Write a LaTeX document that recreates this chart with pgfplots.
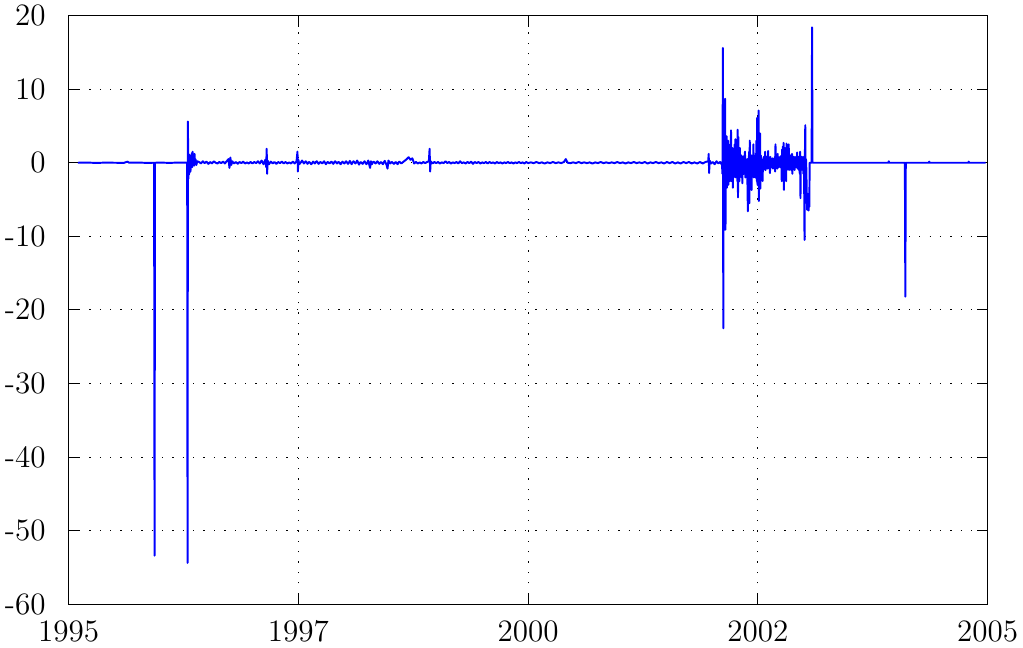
\documentclass[border=0pt]{standalone}
\usepackage{pgfplots}
\pgfplotsset{compat=1.18}
\begin{document}
\begin{tikzpicture}
\begin{axis}[
  width=354.4pt, height=227pt, scale only axis,
  xmin=1995, xmax=2005, ymin=-60, ymax=20,
  xtick={1995,1997.5,2000,2002.5,2005},
  xticklabels={1995,1997,2000,2002,2005},
  ytick={-60,-50,-40,-30,-20,-10,0,10,20},
  yticklabels={-60,-50,-40,-30,-20,-10,0,10,20},
  tick label style={font=\large, inner sep=1.9pt},
  xticklabel style={yshift=-4.3pt},
  yticklabel style={xshift=-6.8pt},
  xmajorgrids, ymajorgrids,
  major grid style={dash pattern=on 0.5pt off 3.5pt, black},
  tick align=inside,
  axis line style={black, line width=0.5pt},
  every tick/.style={black},
]
\addplot[color=blue, line width=0.75pt, line join=round] coordinates {
(1995.10,0)(1995.20,0.03)(1995.30,-0.03)(1995.40,0.02)(1995.50,0)(1995.60,-0.02)(1995.64,0.15)(1995.66,0)(1995.75,0.03)(1995.85,-0.02)(1995.93,0)(1995.935,-53.4)(1995.94,0)(1996.00,0.02)(1996.10,-0.02)(1996.20,0.03)(1996.29,0)(1996.294,-54.4)(1996.298,5.6)(1996.302,-2.2)(1996.306,0.8)(1996.31,-1.6)(1996.314,1.1)(1996.318,-0.9)(1996.322,0.4)(1996.326,-1.2)(1996.33,0.6)(1996.335,-0.4)(1996.34,1.3)(1996.345,-0.6)(1996.35,1.5)(1996.355,-0.3)(1996.36,0.9)(1996.365,-0.4)(1996.37,1.2)(1996.375,-0.2)(1996.38,0.5)(1996.39,-0.3)(1996.40,0.2)
(1996.42,0.1)(1996.44,-0.1)(1996.46,0.2)(1996.48,-0.05)(1996.50,0.15)(1996.52,-0.15)(1996.54,0.1)(1996.56,-0.1)(1996.58,0.2)(1996.60,0)(1996.62,-0.1)(1996.64,0.1)(1996.66,-0.05)(1996.68,0.15)(1996.70,-0.1)(1996.72,0.2)(1996.74,0.5)(1996.75,-0.7)(1996.76,0.7)(1996.77,-0.3)(1996.78,0.2)(1996.80,-0.1)(1996.82,0.1)(1996.84,-0.15)(1996.86,0.1)(1996.88,-0.05)(1996.90,0.15)(1996.92,-0.1)(1996.94,0.05)(1996.96,-0.1)(1996.98,0.1)
(1997.00,-0.1)(1997.02,0.1)(1997.04,-0.05)(1997.06,0.2)(1997.08,-0.1)(1997.10,0.3)(1997.12,-0.2)(1997.14,0.4)(1997.15,-0.6)(1997.155,1.9)(1997.16,-1.5)(1997.165,0.3)(1997.18,-0.2)(1997.20,0.15)(1997.22,-0.1)(1997.24,0.1)(1997.26,-0.15)(1997.28,0.1)(1997.30,-0.05)(1997.32,0.15)(1997.34,-0.1)(1997.36,0.1)(1997.38,-0.1)(1997.40,0.05)(1997.42,-0.1)(1997.44,0.15)(1997.46,-0.1)(1997.48,0.2)(1997.49,1.5)(1997.495,-1.2)(1997.50,0.4)(1997.51,-0.2)(1997.53,0.1)(1997.54,0.3)(1997.56,-0.1)(1997.57,0.05)(1997.58,0.2)(1997.60,-0.15)(1997.61,0.05)(1997.62,0.1)(1997.64,-0.2)(1997.65,-0.05)(1997.66,0.15)(1997.68,-0.1)(1997.69,0.1)(1997.70,0.2)(1997.72,-0.15)(1997.73,0)(1997.74,0.1)(1997.76,-0.1)(1997.77,0.05)(1997.78,0.2)(1997.80,-0.2)(1997.81,0)(1997.82,0.1)(1997.84,-0.1)(1997.85,0.05)(1997.86,0.15)(1997.88,-0.15)(1997.89,0.05)(1997.90,0.2)(1997.92,-0.1)(1997.93,0.05)(1997.94,0.1)(1997.96,-0.2)(1997.97,0)(1997.98,0.15)
(1998.00,-0.1)(1998.01,0.05)(1998.02,0.2)(1998.04,-0.15)(1998.05,0)(1998.06,0.25)(1998.08,-0.2)(1998.09,0.05)(1998.10,0.2)(1998.12,-0.1)(1998.13,0.05)(1998.14,0.3)(1998.16,-0.25)(1998.17,0)(1998.18,0.1)(1998.20,-0.15)(1998.21,0.05)(1998.22,0.2)(1998.24,-0.2)(1998.25,0)(1998.26,0.3)(1998.28,-0.7)(1998.29,0.2)(1998.30,-0.2)(1998.31,0.05)(1998.32,0.15)(1998.34,-0.1)(1998.35,0.05)(1998.36,0.2)(1998.38,-0.15)(1998.39,0)(1998.40,0.1)(1998.42,-0.2)(1998.43,0.05)(1998.44,0.25)(1998.46,-0.3)(1998.47,-0.8)(1998.48,0.3)(1998.50,-0.1)(1998.51,0.05)(1998.52,0.1)(1998.54,-0.15)(1998.55,0)(1998.56,0.1)(1998.58,-0.2)(1998.59,0.05)(1998.60,0.15)(1998.62,-0.1)(1998.64,0.1)(1998.66,0.3)(1998.68,0.5)(1998.70,0.75)(1998.72,0.4)(1998.74,0.6)(1998.76,-0.1)(1998.78,0.1)(1998.80,-0.1)(1998.82,0.05)(1998.84,-0.1)(1998.86,0.1)(1998.88,-0.05)(1998.90,0.1)(1998.92,0.2)(1998.928,1.9)(1998.934,-1.2)(1998.94,0.2)(1998.96,-0.1)(1998.98,0.1)
(1999.00,-0.05)(1999.02,0.1)(1999.04,-0.1)(1999.06,0.05)(1999.08,-0.05)(1999.10,0.2)(1999.12,-0.05)(1999.14,0.1)(1999.16,-0.1)(1999.18,0.05)(1999.20,-0.05)(1999.22,0.1)(1999.24,-0.1)(1999.26,0.2)(1999.28,-0.05)(1999.30,0.05)(1999.32,-0.1)(1999.34,0.1)(1999.36,-0.05)(1999.38,0.15)(1999.40,-0.15)(1999.42,0.1)(1999.44,-0.05)(1999.46,0.1)(1999.48,-0.1)(1999.50,0.05)(1999.52,-0.05)(1999.54,0.1)(1999.56,-0.1)(1999.58,0.1)(1999.60,-0.05)(1999.62,0.05)(1999.64,-0.1)(1999.66,0.1)(1999.68,-0.05)(1999.70,0.05)(1999.72,-0.1)(1999.74,0.05)(1999.76,-0.05)(1999.78,0.1)(1999.80,-0.05)(1999.82,0.05)(1999.84,-0.1)(1999.86,0.05)(1999.88,-0.05)(1999.90,0.1)(1999.92,-0.05)(1999.94,0.05)(1999.96,-0.1)(1999.98,0.1)
(2000.00,-0.05)(2000.03,0.05)(2000.06,-0.05)(2000.09,0.1)(2000.12,-0.05)(2000.15,0.05)(2000.18,-0.1)(2000.21,0.05)(2000.24,-0.05)(2000.27,0.1)(2000.30,-0.05)(2000.33,0.05)(2000.36,-0.05)(2000.39,0.1)(2000.41,0.5)(2000.43,0)(2000.46,-0.05)(2000.49,0.05)(2000.52,-0.05)(2000.55,0.1)(2000.58,-0.05)(2000.61,0.05)(2000.64,-0.05)(2000.67,0.05)(2000.70,-0.1)(2000.73,0.05)(2000.76,-0.05)(2000.79,0.1)(2000.82,-0.05)(2000.85,0.05)(2000.88,-0.05)(2000.91,0.05)(2000.94,-0.05)(2000.97,0.1)
(2001.00,-0.05)(2001.03,0.05)(2001.06,-0.1)(2001.09,0.05)(2001.12,-0.05)(2001.15,0.1)(2001.18,-0.05)(2001.21,0.05)(2001.24,-0.05)(2001.27,0.1)(2001.30,-0.1)(2001.33,0.05)(2001.36,-0.05)(2001.39,0.1)(2001.42,-0.05)(2001.45,0.05)(2001.48,-0.1)(2001.51,0.1)(2001.54,-0.05)(2001.57,0.1)(2001.60,-0.1)(2001.63,0.05)(2001.66,-0.1)(2001.69,0.1)(2001.72,-0.05)(2001.75,0.1)(2001.78,-0.1)(2001.81,0.05)(2001.84,-0.1)(2001.87,0.1)(2001.90,-0.1)(2001.93,0.1)(2001.96,0.2)(2001.965,1.2)(2001.97,-1.4)(2001.975,0.3)(2001.99,-0.1)
(2002.01,0.1)(2002.03,-0.2)(2002.05,0.2)(2002.07,-0.1)(2002.09,0.1)(2002.11,-0.3)(2002.115,-1.5)(2002.12,15.6)(2002.124,-22.5)(2002.128,-1.5)(2002.132,-3.5)(2002.136,0.5)(2002.14,-4)(2002.144,8.7)(2002.148,-9.1)(2002.152,1.5)(2002.156,-2)(2002.16,3.6)(2002.164,-3.4)(2002.168,1.2)(2002.172,-1.5)(2002.176,3.0)(2002.18,-3.0)(2002.184,2.5)(2002.188,-1.5)(2002.192,1.5)(2002.196,-2.5)(2002.20,2.0)(2002.204,-1)(2002.208,4.4)(2002.212,-2.5)(2002.216,1.0)(2002.22,-1.5)(2002.224,2.0)(2002.228,-3.4)(2002.232,0.5)(2002.236,-2)(2002.24,1.5)(2002.244,-1)(2002.248,2.5)(2002.252,-0.5)(2002.256,3.2)(2002.26,-2)(2002.264,1)(2002.268,-1.5)(2002.272,2)(2002.276,-2.5)(2002.28,4.5)(2002.284,-4.7)(2002.288,3.5)(2002.292,-1.5)(2002.296,1.0)(2002.30,-2.5)(2002.304,2.0)(2002.308,-1)(2002.312,0.5)(2002.316,-1.5)(2002.32,1.0)(2002.324,-2.0)(2002.328,0.5)(2002.332,-2.8)(2002.336,0.8)(2002.34,-1.0)(2002.344,0.5)(2002.348,-1.5)(2002.352,1.0)(2002.356,-0.5)(2002.36,1.5)(2002.364,-2.0)(2002.368,0.5)(2002.372,-1.0)(2002.376,0.3)(2002.38,-2.0)(2002.384,0.5)(2002.388,-4.0)(2002.392,-6.6)(2002.396,0.5)(2002.40,-2.0)(2002.404,1.5)(2002.408,-5.5)(2002.412,3.0)(2002.416,-1.5)(2002.42,0.8)(2002.424,-2.5)(2002.428,1.0)(2002.432,-3.7)(2002.436,0.5)(2002.44,-1.5)(2002.444,1.0)(2002.448,-0.8)(2002.452,2.5)(2002.456,-2.0)(2002.46,1.0)(2002.464,-1.2)(2002.468,0.6)(2002.472,-2.0)(2002.476,1.0)(2002.48,-1.0)(2002.484,3.0)(2002.488,-2.5)(2002.492,6.1)(2002.496,-3.0)(2002.50,1.5)(2002.504,-1.0)(2002.508,7.1)(2002.512,-5.2)(2002.516,2.0)(2002.52,-2.0)(2002.524,4.0)(2002.528,-3.5)(2002.532,1.0)(2002.536,-1.5)(2002.54,0.5)(2002.544,-1.0)(2002.548,0.3)(2002.552,-2.5)(2002.556,0.5)(2002.56,-1.0)(2002.564,0.8)(2002.568,-0.5)(2002.572,0.6)(2002.576,-0.8)(2002.58,1.5)(2002.584,-1.0)(2002.588,0.5)(2002.592,-0.5)(2002.596,0.8)(2002.60,-0.3)(2002.604,0.5)(2002.608,-0.8)(2002.612,1.6)(2002.616,-0.5)(2002.62,0.3)(2002.624,-0.6)(2002.628,0.5)(2002.632,-1.4)(2002.636,0.8)(2002.64,-0.3)(2002.644,0.4)(2002.648,-0.6)(2002.652,0.3)(2002.656,-0.4)(2002.66,0.6)(2002.664,-0.8)(2002.668,0.3)(2002.672,-0.3)(2002.676,0.5)(2002.68,-0.6)(2002.684,0.8)(2002.688,-1.2)(2002.692,2.5)(2002.696,-0.5)(2002.70,0.8)(2002.704,-0.4)(2002.708,0.6)(2002.712,-0.8)(2002.716,1.2)(2002.72,-0.4)(2002.724,0.5)(2002.728,-0.6)(2002.732,0.3)(2002.736,-0.4)(2002.74,0.8)(2002.744,-0.6)(2002.748,0.4)(2002.752,-0.5)(2002.756,1.0)(2002.76,-2.5)(2002.764,1.8)(2002.768,-1.0)(2002.772,2.2)(2002.776,-1.5)(2002.78,2.7)(2002.784,-3.7)(2002.788,1.5)(2002.792,-1.0)(2002.796,2.0)(2002.80,-0.5)(2002.804,1.5)(2002.808,-2.5)(2002.812,2.6)(2002.816,-1.0)(2002.82,1.0)(2002.824,-0.8)(2002.828,1.5)(2002.832,-0.5)(2002.836,2.5)(2002.84,-1.0)(2002.844,0.8)(2002.848,-0.6)(2002.852,1.0)(2002.856,-0.5)(2002.86,0.5)(2002.864,-1.0)(2002.868,0.6)(2002.872,1.2)(2002.876,-1.5)(2002.88,0.5)(2002.884,-0.5)(2002.888,0.8)(2002.892,-0.8)(2002.896,0.4)(2002.90,-1.0)(2002.904,0.8)(2002.908,-0.4)(2002.912,0.5)(2002.916,-0.6)(2002.92,0.8)(2002.924,-0.3)(2002.928,1.4)(2002.932,-0.8)(2002.936,0.5)(2002.94,-0.6)(2002.944,0.8)(2002.948,-1.0)(2002.952,0.5)(2002.956,-1.5)(2002.96,1.5)(2002.964,-4.8)(2002.968,0.5)(2002.972,-1.0)(2002.976,0.8)(2002.98,-0.5)(2002.984,0.6)(2002.988,-1.0)(2002.992,0.8)(2002.996,-1.5)
(2003.00,0.5)(2003.004,-3.0)(2003.008,-10.5)(2003.012,1.0)(2003.016,5.1)(2003.02,-2.0)(2003.024,0.5)(2003.028,-1.0)(2003.032,-4.0)(2003.036,-6.4)(2003.04,-4.2)(2003.044,-6.2)(2003.048,-4.5)(2003.052,-6.5)(2003.056,-4.3)(2003.06,-6.0)(2003.064,0)(2003.07,0)(2003.085,0)(2003.09,18.4)(2003.095,0)(2003.20,0)(2003.40,0)(2003.60,0)(2003.80,0)(2003.92,0)(2003.925,0.2)(2003.93,0)(2004.10,0)(2004.105,-18.2)(2004.11,0)(2004.36,0)(2004.365,0.15)(2004.37,0)(2004.79,0)(2004.795,0.15)(2004.80,0)(2004.98,0)
};
\end{axis}
\end{tikzpicture}
\end{document}
